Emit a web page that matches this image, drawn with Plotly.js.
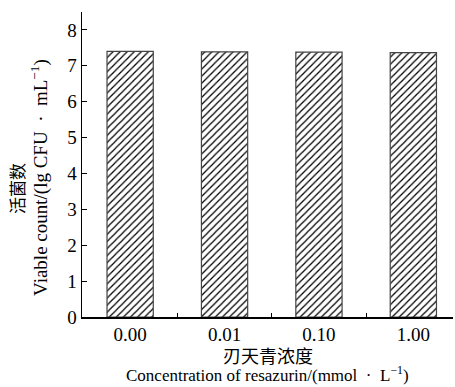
<!DOCTYPE html>
<html><head><meta charset="utf-8">
<script src="https://cdn.plot.ly/plotly-3.0.1.min.js"></script>
<style>html,body{margin:0;padding:0;background:#fff}</style>
</head><body><div id="chart" style="width:455px;height:387px"></div>
<script>
const categories = ["0.00", "0.01", "0.10", "1.00"];
const viableCount = [7.40, 7.39, 7.38, 7.37];
const yTickVals = [0, 1, 2, 3, 4, 5, 6, 7, 8];

const serif = "Liberation Serif, Times New Roman, serif";
const cjk = "Noto Sans CJK SC, sans-serif";

const trace = {
  type: "bar",
  x: categories,
  y: viableCount,
  width: 0.49,
  marker: {
    color: "#ffffff",
    line: {color: "#444444", width: 1.2},
    pattern: {shape: "/", size: 5, solidity: 0.25, fgcolor: "#000000", bgcolor: "#ffffff"}
  },
  hoverinfo: "skip"
};

const layout = {
  width: 455, height: 387,
  margin: {l: 82, r: 2, t: 12, b: 70},
  paper_bgcolor: "#ffffff", plot_bgcolor: "#ffffff",
  showlegend: false,
  xaxis: {
    type: "category",
    range: [-0.51, 3.42],
    showline: true, linecolor: "#000", linewidth: 1.5,
    ticks: "inside", tickson: "boundaries", ticklen: 4, tickcolor: "#000", tickwidth: 1,
    showgrid: false, zeroline: false,
    tickfont: {family: serif, size: 19, color: "#000"}
  },
  yaxis: {
    range: [0, 8.5],
    tickvals: yTickVals,
    showline: true, linecolor: "#000", linewidth: 1.5,
    ticks: "inside", ticklen: 5, tickcolor: "#000", tickwidth: 1,
    showgrid: false, zeroline: false,
    tickfont: {family: serif, size: 19, color: "#000"}
  },
  annotations: [
    {text: "刃天青浓度", xref: "paper", yref: "paper", x: 0.5, y: 0, yshift: -38, yanchor: "middle", xanchor: "center",
     showarrow: false, font: {family: cjk, size: 18, color: "#000"}},
    {text: "Concentration of resazurin/(mmol  ·  L<sup>−1</sup>)", xref: "paper", yref: "paper", x: 0.5, y: 0,
     yshift: -57, yanchor: "middle", xanchor: "center",
     showarrow: false, font: {family: serif, size: 17, color: "#000"}},
    {text: "活菌数", xref: "paper", yref: "paper", x: 0, xshift: -65, y: 0.42, xanchor: "center", yanchor: "middle",
     textangle: -90, showarrow: false, font: {family: cjk, size: 17, color: "#000"}},
    {text: "Viable count/(lg CFU  ·  mL<sup>−1</sup>)", xref: "paper", yref: "paper", x: 0, xshift: -42, y: 0.456,
     xanchor: "center", yanchor: "middle",
     textangle: -90, showarrow: false, font: {family: serif, size: 19, color: "#000"}}
  ]
};

Plotly.newPlot("chart", [trace], layout, {displayModeBar: false, staticPlot: true});
</script></body></html>
